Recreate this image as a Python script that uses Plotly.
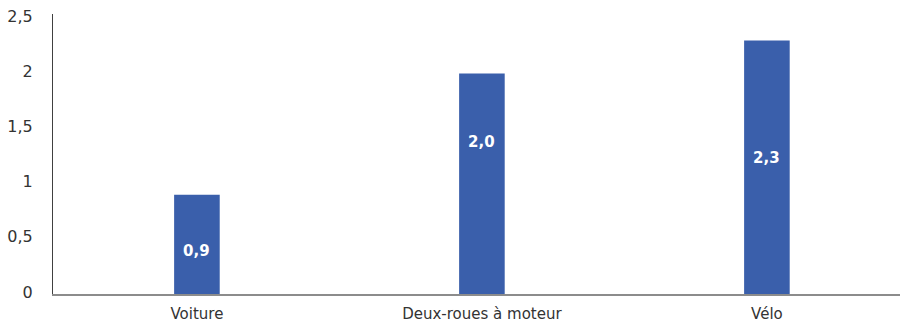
import plotly.graph_objects as go

# Données
categories = ["Voiture", "Deux-roues à moteur", "Vélo"]
valeurs = [0.9, 2.0, 2.3]
etiquettes = ["0,9", "2,0", "2,3"]
ticks_y = [0, 0.5, 1, 1.5, 2, 2.5]
ticks_y_texte = ["0", "0,5", "1", "1,5", "2", "2,5"]

BLEU = "#3A5FAB"
POLICE = "DejaVu Sans, Liberation Sans, sans-serif"

# hauteur de chaque étiquette, en fraction de la barre
HAUTEUR_ETIQUETTE = [0.43, 0.69, 0.535]

fig = go.Figure(
    go.Bar(
        x=categories,
        y=valeurs,
        marker=dict(color=BLEU, line=dict(width=0)),
        width=0.16,
        hoverinfo="skip",
    )
)

for cat, val, txt, frac in zip(categories, valeurs, etiquettes, HAUTEUR_ETIQUETTE):
    fig.add_annotation(
        x=cat,
        y=val * frac,
        text=txt,
        showarrow=False,
        font=dict(family=POLICE, size=15, color="white", weight="bold"),
        xanchor="center",
        yanchor="middle",
    )

fig.update_layout(
    width=900,
    height=323,
    margin=dict(l=53, r=0, t=14, b=27),
    paper_bgcolor="white",
    plot_bgcolor="white",
    showlegend=False,
)

fig.update_xaxes(
    range=[-0.505, 2.467],
    showgrid=False,
    showline=True,
    linecolor="#8c8c8c",
    linewidth=1.5,
    ticks="",
    ticklabelstandoff=5,
    tickfont=dict(family=POLICE, size=15, color="#333"),
    zeroline=False,
)

fig.update_yaxes(
    range=[0, 2.54],
    tickvals=ticks_y,
    ticktext=ticks_y_texte,
    showgrid=False,
    showline=True,
    linecolor="#404040",
    linewidth=1,
    ticks="",
    ticklabelstandoff=16,
    ticklabelshift=-2,
    tickfont=dict(family=POLICE, size=16, color="#333"),
    zeroline=False,
)

fig.write_html("out.html")
